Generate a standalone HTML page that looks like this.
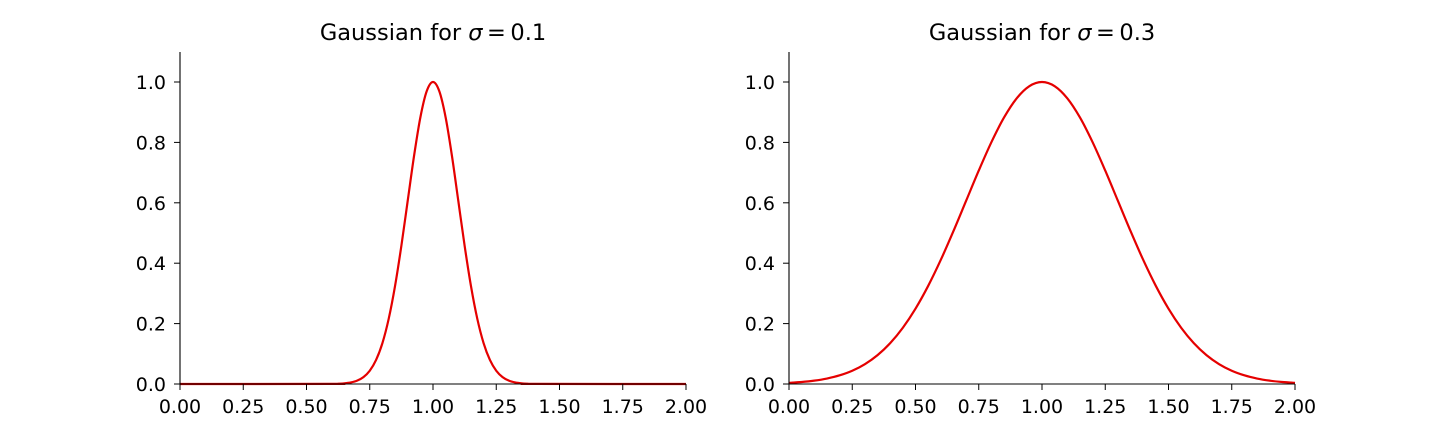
<!DOCTYPE html>
<html><head><meta charset="utf-8"><style>
body{margin:0;background:#fff;width:1440px;height:432px;overflow:hidden}
svg text{font-family:"DejaVu Sans","Liberation Sans",sans-serif;fill:#000}
</style></head><body>
<svg id="chart" width="1440" height="432" xmlns="http://www.w3.org/2000/svg"></svg>
<script>
const xTicks=[0,0.25,0.5,0.75,1.0,1.25,1.5,1.75,2.0];
const xTickLabels=["0.00","0.25","0.50","0.75","1.00","1.25","1.50","1.75","2.00"];
const yTicks=[0,0.2,0.4,0.6,0.8,1.0];
const yTickLabels=["0.0","0.2","0.4","0.6","0.8","1.0"];
const titles=["0.1","0.3"];
const xs1=[0,0.6,0.625,0.65,0.675,0.7,0.725,0.75,0.775,0.8,0.825,0.85,0.875,0.9,0.925,0.95,0.975,1.0,1.025,1.05,1.075,1.1,1.125,1.15,1.175,1.2,1.225,1.25,1.275,1.3,1.325,1.35,1.375,1.4,2.0];
const ys1=[0,0.0003,0.0009,0.0022,0.0051,0.0111,0.0228,0.0439,0.0796,0.1353,0.2163,0.3247,0.4578,0.6065,0.7548,0.8825,0.9692,1,0.9692,0.8825,0.7548,0.6065,0.4578,0.3247,0.2163,0.1353,0.0796,0.0439,0.0228,0.0111,0.0051,0.0022,0.0009,0.0003,0];
const xs2=[0,0.05,0.1,0.15,0.2,0.25,0.3,0.35,0.4,0.45,0.5,0.55,0.6,0.65,0.7,0.75,0.8,0.85,0.9,0.95,1.0,1.05,1.1,1.15,1.2,1.25,1.3,1.35,1.4,1.45,1.5,1.55,1.6,1.65,1.7,1.75,1.8,1.85,1.9,1.95,2.0];
const ys2=[0.0039,0.0066,0.0111,0.0181,0.0286,0.0439,0.0657,0.0956,0.1353,0.1863,0.2494,0.3247,0.4111,0.5063,0.6065,0.7066,0.8007,0.8825,0.9460,0.9862,1,0.9862,0.9460,0.8825,0.8007,0.7066,0.6065,0.5063,0.4111,0.3247,0.2494,0.1863,0.1353,0.0956,0.0657,0.0439,0.0286,0.0181,0.0111,0.0066,0.0039];
const series=[[xs1,ys1],[xs2,ys2]];
const panels=[180,789];
const NS="http://www.w3.org/2000/svg";
const svg=document.getElementById('chart');
function mk(t,a,p){const e=document.createElementNS(NS,t);for(const k in a)e.setAttribute(k,a[k]);(p||svg).appendChild(e);return e;}
panels.forEach((x0,pi)=>{
  const W=506,y0=384,H=302/1.0;
  const sx=v=>x0+v/2*W, sy=v=>y0-v*H;
  const g=mk('g',{});
  
  
  const xs=series[pi][0],ys=series[pi][1];
  const P=xs.map((x,i)=>[sx(x),sy(ys[i])]);
  let d='M'+P[0][0]+','+P[0][1];
  for(let i=0;i<P.length-1;i++){
    const p0=P[Math.max(i-1,0)],p1=P[i],p2=P[i+1],p3=P[Math.min(i+2,P.length-1)];
    const c1=[p1[0]+(p2[0]-p0[0])/6,p1[1]+(p2[1]-p0[1])/6];
    const c2=[p2[0]-(p3[0]-p1[0])/6,p2[1]-(p3[1]-p1[1])/6];
    d+=`C${c1[0]},${Math.min(c1[1],y0)} ${c2[0]},${Math.min(c2[1],y0)} ${p2[0]},${p2[1]}`;
  }
  const path=mk('path',{d:d,fill:'none',stroke:'#e50000','stroke-width':2.2},g);
  
  
  const ya=mk('line',{x1:x0,y1:52,x2:x0,y2:y0,stroke:'#000','stroke-width':1.1},g);
  
  
  const xa=mk('line',{x1:x0,y1:y0,x2:x0+W,y2:y0,stroke:'#000','stroke-width':1.1},g);
  
  
  xTicks.forEach((v,i)=>{
    mk('line',{x1:sx(v),y1:y0,x2:sx(v),y2:y0+6,stroke:'#000','stroke-width':1},g);
    const t=mk('text',{x:sx(v),y:y0+29,'text-anchor':'middle','font-size':19},g);
    t.textContent=xTickLabels[i];
    
    
  });
  yTicks.forEach((v,i)=>{
    mk('line',{x1:x0-6,y1:sy(v),x2:x0,y2:sy(v),stroke:'#000','stroke-width':1},g);
    const t=mk('text',{x:x0-14,y:sy(v)+7,'text-anchor':'end','font-size':19},g);
    t.textContent=yTickLabels[i];
    
    
  });
  const tt=mk('text',{x:x0+W/2,y:40,'text-anchor':'middle','font-size':22.5},g);
  tt.innerHTML='Gaussian for <tspan font-style="italic">σ</tspan>\u2009=\u20090.'+titles[pi].slice(2);
  
  
});
</script>
</body></html>
